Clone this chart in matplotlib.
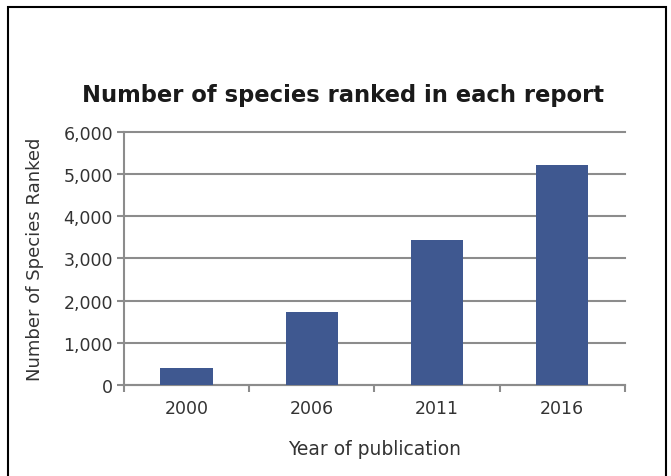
import numpy as np
import matplotlib.pyplot as plt
from matplotlib.patches import Rectangle

years = ['2000', '2006', '2011', '2016']
species = [410, 1730, 3440, 5220]
yticks = [0, 1000, 2000, 3000, 4000, 5000, 6000]

fig = plt.figure(figsize=(6.71, 4.77), dpi=100)
ax = fig.add_axes([0.185, 0.191, 0.746, 0.530])

# outer frame (bottom edge is cut off in the original)
fig.patches.append(Rectangle((8 / 671, -0.1), (666 - 8) / 671, 1.1 - 8 / 477,
                             transform=fig.transFigure, fill=False,
                             edgecolor='black', lw=1.5))

x = np.arange(len(years))
ax.bar(x, species, width=0.42, color='#3F5890', zorder=3)

ax.set_xlim(-0.5, len(years) - 0.5)
ax.set_ylim(0, 6000)
ax.set_yticks(yticks)
ax.set_yticklabels([f'{v:,}' for v in yticks])
ax.set_xticks(x)
ax.set_xticklabels(years)
ax.set_xticks(np.arange(-0.5, len(years)), minor=True)

grid_c = '#8C8C8C'
ax.yaxis.grid(True, color=grid_c, lw=1.5, zorder=0)
for gl in ax.get_ygridlines():
    gl.set_clip_on(False)
for s in ['top', 'right']:
    ax.spines[s].set_visible(False)
for s in ['left', 'bottom']:
    ax.spines[s].set_color(grid_c)
    ax.spines[s].set_linewidth(1.5)

ax.tick_params(axis='y', colors=grid_c, length=5, width=1.5,
               labelcolor='#333333', labelsize=12.5, pad=3)
ax.tick_params(axis='x', which='major', length=0, labelcolor='#333333',
               labelsize=12.5, pad=10)
ax.tick_params(axis='x', which='minor', length=5, width=1.5, colors=grid_c)

ax.set_ylabel('Number of Species Ranked', fontsize=13, color='#333333', labelpad=14)
ax.set_xlabel('Year of publication', fontsize=13.5, color='#333333', labelpad=16)
fig.text(0.511, 0.80, 'Number of species ranked in each report',
         ha='center', va='center', fontsize=16.3, fontweight='bold', color='#1a1a1a')

fig.savefig('out.png', dpi=100)
